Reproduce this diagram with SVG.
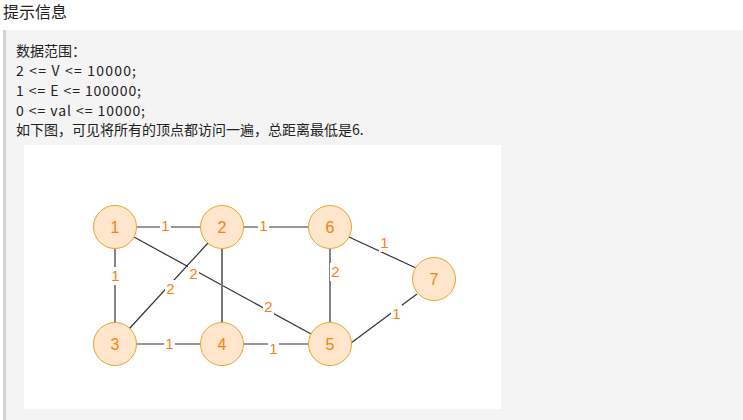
<svg xmlns="http://www.w3.org/2000/svg" width="743" height="420" viewBox="0 0 743 420">
<style>
.t{font-family:"Microsoft YaHei","Noto Sans CJK SC","Liberation Sans",sans-serif;font-size:14px;fill:#222}
.e{stroke:#333;stroke-width:1.2;fill:none}
.n circle{fill:#ffe6cc;stroke:#e6a52c;stroke-width:1}
.n text{font-family:"Liberation Sans",Arial,sans-serif;font-size:16px;fill:#f7820f;text-anchor:middle}
.l rect{fill:#fff}
.l text{font-family:"Liberation Sans",Arial,sans-serif;font-size:15px;fill:#f7820f;text-anchor:middle}
</style>
<rect width="743" height="420" fill="#fff"/>
<text class="t" x="3" y="18" style="font-size:16px">提示信息</text>
<rect x="3" y="30" width="740" height="390" fill="#f4f4f4"/>
<rect x="3" y="30" width="3" height="390" fill="#d3d3d3"/>
<text class="t" x="16" y="56">数据范围：</text>
<text class="t" x="16" y="76" textLength="120" lengthAdjust="spacing">2 &lt;= V &lt;= 10000;</text>
<text class="t" x="16" y="96" textLength="125" lengthAdjust="spacing">1 &lt;= E &lt;= 100000;</text>
<text class="t" x="16" y="116" textLength="129" lengthAdjust="spacing">0 &lt;= val &lt;= 10000;</text>
<text class="t" x="16" y="135">如下图，可见将所有的顶点都访问一遍，总距离最低是6.</text>
<rect x="24" y="145" width="477" height="264" fill="#fff"/>
<g id="edges">
<line class="e" x1="136" y1="227" x2="201" y2="227"/>
<line class="e" x1="243" y1="227" x2="309" y2="227"/>
<line class="e" x1="115" y1="248" x2="115" y2="323"/>
<line class="e" x1="136" y1="344" x2="201" y2="344"/>
<line class="e" x1="243" y1="344" x2="309" y2="344"/>
<line class="e" x1="134" y1="237" x2="311" y2="334"/>
<line class="e" x1="208" y1="243" x2="129" y2="329"/>
<line x1="222" y1="248" x2="222" y2="323" stroke="#777" stroke-width="2"/>
<line class="e" x1="330" y1="248" x2="330" y2="323"/>
<line class="e" x1="349" y1="237" x2="416" y2="268"/>
<line class="e" x1="351" y1="343" x2="417" y2="294"/>
<g class="l">
<rect x="160" y="217" width="11" height="18"/><text x="165.5" y="231">1</text>
<rect x="258" y="217" width="11" height="18"/><text x="263.5" y="231">1</text>
<rect x="110" y="267" width="11" height="18"/><text x="115.5" y="281">1</text>
<rect x="164" y="335" width="11" height="18"/><text x="169.5" y="349">1</text>
<rect x="268" y="340" width="11" height="18"/><text x="273.5" y="354">1</text>
<rect x="379" y="234" width="11" height="18"/><text x="384.5" y="248">1</text>
<rect x="391" y="305" width="11" height="18"/><text x="396.5" y="319">1</text>
<rect x="188" y="265" width="11" height="18"/><text x="193.5" y="279">2</text>
<rect x="263" y="298" width="11" height="18"/><text x="268.5" y="312">2</text>
<rect x="165" y="280" width="11" height="18"/><text x="170.5" y="294">2</text>
<rect x="330" y="263" width="11" height="18"/><text x="335.5" y="277">2</text>
</g>
</g>
<g id="node1" class="n"><circle cx="115" cy="227" r="21.5"/><text x="115" y="232.5">1</text></g>
<g id="node2" class="n"><circle cx="222" cy="227" r="21.5"/><text x="222" y="232.5">2</text></g>
<g id="node6" class="n"><circle cx="330" cy="227" r="21.5"/><text x="330" y="232.5">6</text></g>
<g id="node7" class="n"><circle cx="434" cy="279" r="21.5"/><text x="434" y="284.5">7</text></g>
<g id="node3" class="n"><circle cx="115" cy="344" r="21.5"/><text x="115" y="349.5">3</text></g>
<g id="node4" class="n"><circle cx="222" cy="344" r="21.5"/><text x="222" y="349.5">4</text></g>
<g id="node5" class="n"><circle cx="330" cy="344" r="21.5"/><text x="330" y="349.5">5</text></g>
</svg>
